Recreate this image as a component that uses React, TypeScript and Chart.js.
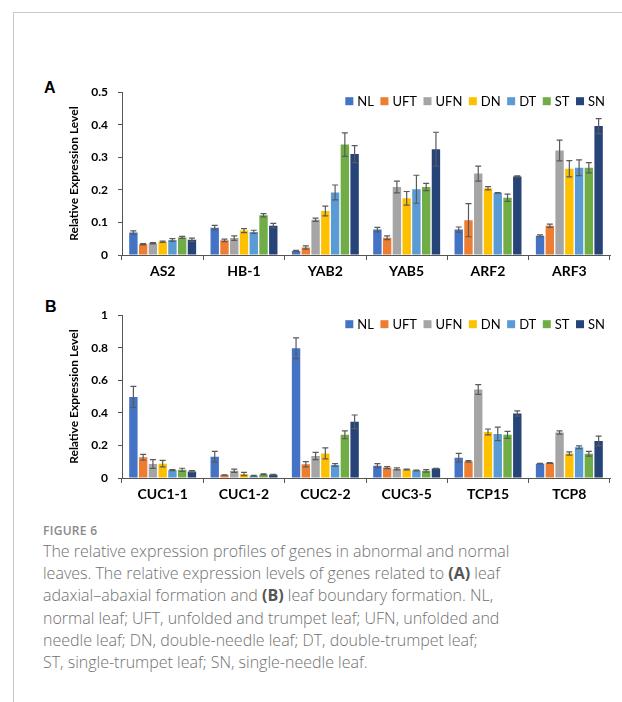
import React, { useEffect, useRef } from 'react';
import { Chart, registerables } from 'chart.js';

Chart.register(...registerables);

// ---------- DATA ----------
const seriesNames = ['NL', 'UFT', 'UFN', 'DN', 'DT', 'ST', 'SN'];
const seriesColors = ['#4472C4', '#ED7D31', '#A5A5A5', '#FFC000', '#5B9BD5', '#70AD47', '#264478'];

// Panel A
const genesA = ['AS2', 'HB-1', 'YAB2', 'YAB5', 'ARF2', 'ARF3'];
const NL_A = [0.069, 0.084, 0.012, 0.078, 0.078, 0.059];
const UFT_A = [0.033, 0.045, 0.023, 0.053, 0.107, 0.09];
const UFN_A = [0.036, 0.052, 0.108, 0.209, 0.25, 0.321];
const DN_A = [0.041, 0.075, 0.135, 0.174, 0.205, 0.265];
const DT_A = [0.046, 0.071, 0.192, 0.202, 0.191, 0.268];
const ST_A = [0.054, 0.122, 0.339, 0.209, 0.176, 0.268];
const SN_A = [0.047, 0.09, 0.31, 0.325, 0.241, 0.396];
const NL_A_err = [0.005, 0.007, 0.002, 0.007, 0.008, 0.003];
const UFT_A_err = [0.002, 0.004, 0.005, 0.006, 0.051, 0.005];
const UFN_A_err = [0.002, 0.007, 0.005, 0.018, 0.023, 0.032];
const DN_A_err = [0.002, 0.006, 0.015, 0.021, 0.005, 0.025];
const DT_A_err = [0.004, 0.005, 0.023, 0.043, 0.001, 0.024];
const ST_A_err = [0.003, 0.005, 0.036, 0.011, 0.011, 0.016];
const SN_A_err = [0.005, 0.007, 0.026, 0.052, 0.002, 0.023];
const yTicksA = [0, 0.1, 0.2, 0.3, 0.4, 0.5];

// Panel B
const genesB = ['CUC1-1', 'CUC1-2', 'CUC2-2', 'CUC3-5', 'TCP15', 'TCP8'];
const NL_B = [0.498, 0.13, 0.797, 0.076, 0.124, 0.088];
const UFT_B = [0.127, 0.018, 0.084, 0.064, 0.102, 0.092];
const UFN_B = [0.086, 0.044, 0.135, 0.056, 0.544, 0.279];
const DN_B = [0.088, 0.024, 0.151, 0.052, 0.283, 0.151];
const DT_B = [0.048, 0.014, 0.08, 0.046, 0.271, 0.189];
const ST_B = [0.05, 0.022, 0.265, 0.044, 0.265, 0.149];
const SN_B = [0.04, 0.02, 0.345, 0.058, 0.396, 0.227];
const NL_B_err = [0.065, 0.033, 0.064, 0.012, 0.027, 0.002];
const UFT_B_err = [0.018, 0.002, 0.016, 0.006, 0.005, 0.003];
const UFN_B_err = [0.027, 0.01, 0.022, 0.006, 0.03, 0.01];
const DN_B_err = [0.02, 0.01, 0.034, 0.003, 0.018, 0.01];
const DT_B_err = [0.003, 0.002, 0.008, 0.003, 0.042, 0.008];
const ST_B_err = [0.01, 0.003, 0.024, 0.008, 0.022, 0.015];
const SN_B_err = [0.005, 0.003, 0.042, 0.002, 0.016, 0.03];
const yTicksB = [0, 0.2, 0.4, 0.6, 0.8, 1];

const valuesA = [NL_A, UFT_A, UFN_A, DN_A, DT_A, ST_A, SN_A];
const errorsA = [NL_A_err, UFT_A_err, UFN_A_err, DN_A_err, DT_A_err, ST_A_err, SN_A_err];
const valuesB = [NL_B, UFT_B, UFN_B, DN_B, DT_B, ST_B, SN_B];
const errorsB = [NL_B_err, UFT_B_err, UFN_B_err, DN_B_err, DT_B_err, ST_B_err, SN_B_err];

// ---------- PLUGINS ----------
const errorBarPlugin = {
  id: 'errorBars',
  afterDatasetsDraw(chart: any) {
    const ctx = chart.ctx;
    const yScale = chart.scales.y;
    chart.data.datasets.forEach((ds: any, i: number) => {
      const meta = chart.getDatasetMeta(i);
      if (meta.hidden) return;
      meta.data.forEach((bar: any, j: number) => {
        const v = ds.data[j];
        const e = ds.errors[j];
        const x = bar.x;
        const yt = yScale.getPixelForValue(v + e);
        const yb = yScale.getPixelForValue(Math.max(0, v - e));
        const cap = 3;
        ctx.save();
        ctx.strokeStyle = '#5a5a5a';
        ctx.lineWidth = 1.2;
        ctx.beginPath();
        ctx.moveTo(x, yt);
        ctx.lineTo(x, yb);
        ctx.moveTo(x - cap, yt);
        ctx.lineTo(x + cap, yt);
        ctx.moveTo(x - cap, yb);
        ctx.lineTo(x + cap, yb);
        ctx.stroke();
        ctx.restore();
      });
    });
  },
};

// Horizontal legend placed inside the plot area, top-right
const rowLegendPlugin = {
  id: 'rowLegend',
  afterDraw(chart: any) {
    const ctx = chart.ctx;
    const area = chart.chartArea;
    const box = 8;
    const gap = 4;
    const spacing = 6.5;
    ctx.save();
    ctx.font = '13px Lato';
    ctx.textBaseline = 'middle';
    ctx.textAlign = 'left';
    const items = chart.data.datasets.map((ds: any) => ({
      label: ds.label,
      color: ds.backgroundColor,
      w: ctx.measureText(ds.label).width,
    }));
    const total =
      items.reduce((s: number, it: any) => s + box + gap + it.w, 0) + spacing * (items.length - 1);
    let x = area.right - 5 - total;
    const yc = area.top + 9;
    items.forEach((it: any) => {
      ctx.fillStyle = it.color;
      ctx.fillRect(x, yc - box / 2, box, box);
      x += box + gap;
      ctx.fillStyle = '#000';
      ctx.fillText(it.label, x, yc + 0.5);
      x += it.w + spacing;
    });
    ctx.restore();
  },
};

type PanelProps = {
  labels: string[];
  values: number[][];
  errors: number[][];
  ticks: number[];
  top: number;
};

function Panel({ labels, values, errors, ticks, top }: PanelProps) {
  const ref = useRef<HTMLCanvasElement | null>(null);
  useEffect(() => {
    if (!ref.current) return;
    const max = ticks[ticks.length - 1];
    const chart = new Chart(ref.current, {
      type: 'bar',
      data: {
        labels,
        datasets: seriesNames.map((name, i) => ({
          label: name,
          data: values[i],
          errors: errors[i],
          backgroundColor: seriesColors[i],
          borderWidth: 0,
          categoryPercentage: 0.84,
          barPercentage: 0.86,
        })) as any,
      },
      options: {
        responsive: false,
        animation: false,
        devicePixelRatio: 1,
        layout: { padding: { left: 27, right: 5, top: 5, bottom: 0 } },
        plugins: {
          legend: { display: false },
          tooltip: { enabled: false },
        },
        scales: {
          x: {
            grid: {
              display: true,
              drawOnChartArea: false,
              drawTicks: true,
              tickLength: 5,
              color: '#555',
              offset: true,
            },
            border: { display: true, color: '#555', width: 1 },
            ticks: {
              color: '#000',
              padding: 3,
              font: { family: 'Lato', size: 14, weight: 'bold' },
            },
            afterFit: (s: any) => {
              s.height = 30;
            },
          },
          y: {
            min: 0,
            max,
            afterBuildTicks: (s: any) => {
              s.ticks = ticks.map((v) => ({ value: v }));
            },
            grid: {
              display: true,
              drawOnChartArea: false,
              drawTicks: true,
              tickLength: 4,
              color: '#555',
            },
            border: { display: true, color: '#555', width: 1 },
            ticks: {
              color: '#000',
              padding: 10,
              font: { family: 'Lato', size: 12, weight: 'bold' },
              callback: (v: any) => String(Number(v)),
            },
            title: {
              display: true,
              text: 'Relative Expression Level',
              color: '#000',
              padding: { top: 0, bottom: 0 },
              font: { family: 'Lato', size: 12, weight: 'bold' },
            },
            afterFit: (s: any) => {
              s.width = 55;
            },
          },
        },
      },
      plugins: [errorBarPlugin, rowLegendPlugin],
    } as any);
    return () => chart.destroy();
  }, []);
  return (
    <canvas
      ref={ref}
      width={575}
      height={210}
      style={{ position: 'absolute', left: 40, top, width: 575, height: 210 }}
    />
  );
}

export default function App() {
  const capStyle: React.CSSProperties = {
    position: 'absolute',
    left: 43,
    top: 540,
    fontFamily: '"Open Sans", sans-serif',
    fontSize: 16,
    fontWeight: 300,
    lineHeight: '22.2px',
    color: '#707070',
    whiteSpace: 'nowrap',
  };
  const b: React.CSSProperties = { fontWeight: 700, color: '#555' };
  return (
    <div style={{ position: 'absolute', left: 0, top: 0, width: 622, height: 702, background: '#fff', overflow: 'hidden' }}>
      <div
        style={{
          position: 'absolute',
          left: 13,
          top: 12,
          width: 620,
          height: 700,
          borderTop: '1px solid #c8c8c8',
          borderLeft: '1px solid #c8c8c8',
        }}
      />
      <div style={{ position: 'absolute', left: 44, top: 79, fontFamily: '"Liberation Sans", Arial, sans-serif', fontWeight: 700, fontSize: 16, lineHeight: '18px', color: '#000' }}>A</div>
      <div style={{ position: 'absolute', left: 45, top: 298, fontFamily: '"Liberation Sans", Arial, sans-serif', fontWeight: 700, fontSize: 16, lineHeight: '18px', color: '#000' }}>B</div>
      <Panel labels={genesA} values={valuesA} errors={errorsA} ticks={yTicksA} top={75} />
      <Panel labels={genesB} values={valuesB} errors={errorsB} ticks={yTicksB} top={298} />
      <div
        style={{
          position: 'absolute',
          left: 43,
          top: 524,
          fontFamily: '"Open Sans", sans-serif',
          fontSize: 12,
          fontWeight: 600,
          lineHeight: '14px',
          color: '#8a8a8a',
          letterSpacing: '0.3px',
        }}
      >
        FIGURE 6
      </div>
      <div style={capStyle}>
        The relative expression profiles of genes in abnormal and normal
        <br />
        leaves. The relative expression levels of genes related to <span style={b}>(A)</span> leaf
        <br />
        adaxial–abaxial formation and <span style={b}>(B)</span> leaf boundary formation. NL,
        <br />
        normal leaf; UFT, unfolded and trumpet leaf; UFN, unfolded and
        <br />
        needle leaf; DN, double-needle leaf; DT, double-trumpet leaf;
        <br />
        ST, single-trumpet leaf; SN, single-needle leaf.
      </div>
    </div>
  );
}
